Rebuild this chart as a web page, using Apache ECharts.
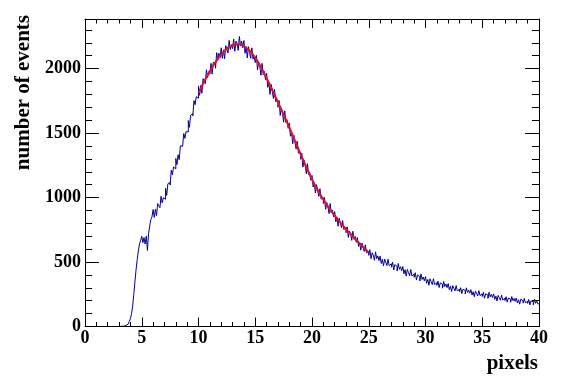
<!DOCTYPE html>
<html>
<head>
<meta charset="utf-8">
<script src="https://cdn.jsdelivr.net/npm/echarts@6/dist/echarts.min.js"></script>
<style>
html,body{margin:0;padding:0;background:#fff;}
#c{width:567px;height:384px;}
</style>
</head>
<body>
<div id="c"></div>
<script>
// Histogram: bins of width 0.1 from 0 to 40 (pixels)
const binStart = 0;
const binWidth = 0.1;
const counts = [
  0,0,0,0,0,0,0,0,0,0,
  0,0,0,0,0,0,0,0,0,0,
  0,0,0,0,0,0,0,0,0,0,
  0,1,2,3,5,8,12,18,26,38,
  60,100,160,250,350,440,520,585,640,665,
  700,650,690,640,700,590,720,780,830,850,
  907,846,910,859,953,937,921,1010,959,998,
  987,1072,1017,1107,1117,1097,1212,1177,1237,1222,
  1303,1255,1332,1294,1401,1398,1395,1497,1459,1511,
  1509,1597,1545,1638,1651,1634,1752,1720,1783,1771,
  1866,1793,1870,1809,1922,1903,1884,1991,1930,1977,
  1956,2041,1958,2049,2044,2003,2124,2065,2120,2085,
  2162,2079,2146,2076,2179,2150,2121,2219,2148,2185,
  2155,2229,2135,2214,2196,2142,2249,2175,2214,2162,
  2218,2119,2170,2083,2170,2125,2080,2161,2074,2095,
  2047,2103,1991,2053,2019,1949,2041,1953,1979,1915,
  1964,1855,1897,1800,1878,1823,1769,1840,1744,1755,
  1700,1753,1637,1696,1658,1585,1673,1582,1604,1537,
  1579,1476,1509,1417,1484,1430,1376,1438,1345,1351,
  1297,1344,1236,1289,1252,1184,1263,1178,1197,1134,
  1172,1082,1116,1036,1100,1055,1009,1069,988,998,
  954,1001,909,961,934,876,954,881,904,851,
  891,812,848,778,840,802,765,822,753,765,
  727,773,691,740,718,668,739,676,699,653,
  690,621,652,592,647,614,582,633,572,583,
  552,595,525,572,554,513,579,526,548,511,
  546,489,521,471,523,498,473,522,472,486,
  460,499,438,480,466,430,489,443,464,431,
  466,409,441,391,443,418,393,442,392,406,
  382,417,361,400,386,353,408,365,384,354,
  387,335,365,320,370,347,325,371,326,339,
  319,352,302,338,327,297,349,310,329,302,
  333,285,313,271,317,296,276,318,277,289,
  270,301,255,289,279,252,300,264,282,258,
  286,244,269,231,275,256,237,278,240,252,
  233,265,219,254,244,218,266,230,249,225,
  253,210,236,198,241,223,204,244,206,219,
  201,231,189,221,212,188,232,201,217,195,
  221,182,207,173,212,197,181,218,184,196,
  179,209,167,199,191,167,211,180,197,175
];
// Fit curve
const fitX = [10,10.5,11,11.5,12,12.5,13,13.5,14,14.5,15,15.5,16,16.5,17,17.5,18,18.5,19,19.5,20,20.5,21,21.5,22,22.5,23,23.5,24,24.5,25];
const fitY = [1810,1900,1980,2050,2110,2155,2183,2190,2175,2140,2085,2010,1925,1835,1740,1643,1545,1440,1335,1235,1140,1058,985,918,860,805,755,708,662,617,575];
// Axes
const xMin = 0, xMax = 40, xStep = 5;
const yMin = 0, yMax = 2385, yStep = 500, yMinorStep = 100;
const xTitle = 'pixels';
const yTitle = 'number of events';

const histData = counts.map((v, i) => [binStart + i * binWidth, v]);
histData.push([binStart + counts.length * binWidth, counts[counts.length - 1]]);
const fitData = fitX.map((x, i) => [x, fitY[i]]);

const font = "'Liberation Serif','Times New Roman',serif";
const black = '#000';
const plain = v => String(v);

function xAx(pos, labels) {
  return {
    type: 'value', position: pos, min: xMin, max: xMax, interval: xStep, z: 5,
    axisLine: {show: true, onZero: false, lineStyle: {color: black, width: 1}},
    axisTick: {show: true, inside: true, length: 9, lineStyle: {color: black, width: 1}},
    minorTick: {show: true, splitNumber: 5, length: 4.5, lineStyle: {color: black, width: 1}},
    axisLabel: {show: labels, margin: 3, formatter: plain, fontFamily: font, fontWeight: 'bold', fontSize: 18, color: black},
    splitLine: {show: false}, minorSplitLine: {show: false}
  };
}
function yAx(pos, step, len, labels, line) {
  return {
    type: 'value', position: pos, min: yMin, max: yMax, interval: step, offset: 0, z: 5,
    axisLine: {show: line, onZero: false, lineStyle: {color: black, width: 1}},
    axisTick: {show: true, inside: true, length: len, lineStyle: {color: black, width: 1}},
    axisLabel: {show: labels, showMaxLabel: false, margin: 4, formatter: plain, fontFamily: font, fontWeight: 'bold', fontSize: 18, color: black},
    splitLine: {show: false}
  };
}

const chart = echarts.init(document.getElementById('c'), null, {renderer: 'canvas'});
chart.setOption({
  animation: false,
  backgroundColor: '#fff',
  grid: {left: 85, right: 28, top: 19, bottom: 57.5, containLabel: false},
  xAxis: [xAx('bottom', true), xAx('top', false)],
  yAxis: [
    yAx('left', yStep, 14, true, true),
    yAx('left', yMinorStep, 7, false, false),
    yAx('right', yStep, 14, false, true),
    yAx('right', yMinorStep, 7, false, false)
  ],
  graphic: [
    {type: 'text', x: 24, y: 15, rotation: Math.PI / 2,
     style: {text: yTitle, font: "bold 21px 'Liberation Serif','Times New Roman',serif", fill: black, textAlign: 'right', textVerticalAlign: 'middle'}},
    {type: 'text', x: 538, y: 364,
     style: {text: xTitle, font: "bold 21px 'Liberation Serif','Times New Roman',serif", fill: black, textAlign: 'right', textVerticalAlign: 'middle'}}
  ],
  series: [
    {type: 'line', xAxisIndex: 0, yAxisIndex: 0, data: histData, step: 'end', symbol: 'none',
     lineStyle: {color: '#000099', width: 1}, clip: true, z: 2},
    {type: 'line', xAxisIndex: 0, yAxisIndex: 0, data: fitData, smooth: true, symbol: 'none',
     lineStyle: {color: '#e0102e', width: 2}, z: 3}
  ]
});
</script>
</body>
</html>
